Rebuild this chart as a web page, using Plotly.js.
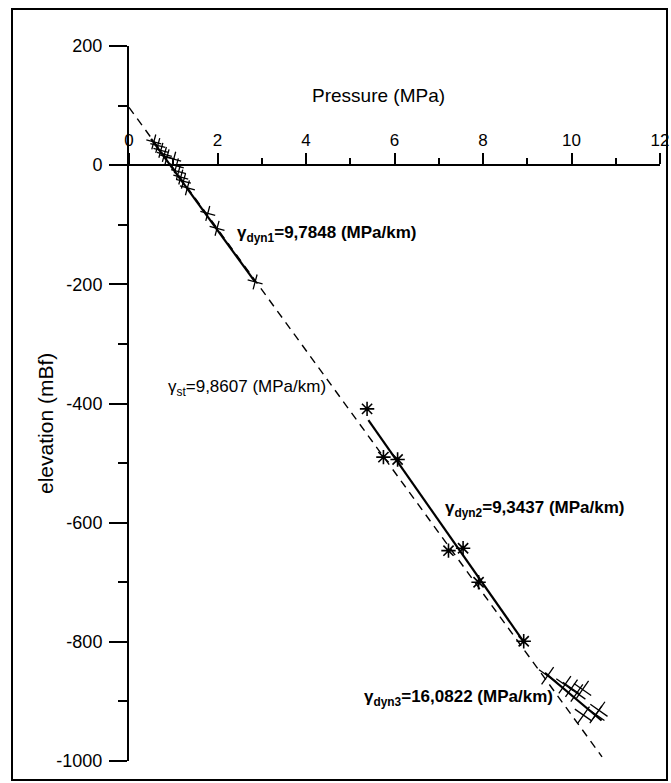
<!DOCTYPE html>
<html>
<head>
<meta charset="utf-8">
<script src="https://cdn.plot.ly/plotly-3.0.1.min.js"></script>
<style>html,body{margin:0;padding:0;background:#fff;}#chart{width:671px;height:783px;}</style>
</head>
<body>
<div id="chart"></div>
<script>
// Measured points: pressure (MPa) vs elevation (mBf)
const pDyn1 = [0.56, 0.65, 0.72, 0.80, 0.86, 1.01, 1.07, 1.12, 1.17, 1.23, 1.32, 1.78, 1.99, 2.85];
const zDyn1 = [39, 33, 25, 18, 14, 10, -1, -11, -20, -27, -38, -81, -106, -196];
const pDyn2 = [5.38, 5.75, 6.07, 7.22, 7.55, 7.90, 8.92];
const zDyn2 = [-409, -490, -494, -647, -643, -700, -799];
const pDyn3 = [9.46, 9.85, 10.00, 10.12, 10.25, 10.27, 10.55, 10.62];
const zDyn3 = [-857, -872, -878, -886, -880, -923, -922, -915];

// Fitted gradient lines (end points)
const fitDyn1P = [0.50, 2.85], fitDyn1Z = [44, -196];
const fitDyn2P = [5.41, 8.92], fitDyn2Z = [-428, -800];
const fitDyn3P = [9.40, 10.68], fitDyn3Z = [-852, -932];
const fitStP = [0, 10.69], fitStZ = [97, -993];

// Tick labels
const xTickVals = [0, 2, 4, 6, 8, 10, 12];
const xTickText = ["0", "2", "4", "6", "8", "10", "12"];
const yTickVals = [200, 0, -200, -400, -600, -800, -1000];
const yTickText = ["200", "0", "-200", "-400", "-600", "-800", "-1000"];

// Labels
const labDyn1 = "<b>γ<sub>dyn1</sub>=9,7848 (MPa/km)</b>";
const labSt = "γ<sub>st</sub>=9,8607 (MPa/km)";
const labDyn2 = "<b>γ<sub>dyn2</sub>=9,3437 (MPa/km)</b>";
const labDyn3 = "<b>γ<sub>dyn3</sub>=16,0822 (MPa/km)</b>";
const xTitle = "Pressure (MPa)";
const yTitle = "elevation (mBf)";

const FONT = "Liberation Sans, Arial, Helvetica, sans-serif";
const K = '#000';

const traces = [
  {x: fitStP, y: fitStZ, mode: 'lines', line: {color: K, width: 1.4, dash: '8px,6px'}},
  {x: fitDyn1P, y: fitDyn1Z, mode: 'lines', line: {color: K, width: 2.2}},
  {x: fitDyn2P, y: fitDyn2Z, mode: 'lines', line: {color: K, width: 2.2}},
  {x: fitDyn3P, y: fitDyn3Z, mode: 'lines', line: {color: K, width: 2.2}},
  {x: pDyn1, y: zDyn1, mode: 'markers', marker: {symbol: 'cross-thin-open', color: K, size: 11, angle: 15, line: {color: K, width: 1.3}}},
  {x: pDyn2, y: zDyn2, mode: 'markers', marker: {symbol: 'asterisk-open', color: K, size: 12, line: {color: K, width: 1.6}}},
  {x: pDyn3, y: zDyn3, mode: 'markers', marker: {symbol: 'cross-thin-open', color: K, size: 15, angle: 35, line: {color: K, width: 1.3}}}
];

const layout = {
  width: 671, height: 783,
  margin: {l: 129, r: 11, t: 46, b: 22},
  paper_bgcolor: '#fff', plot_bgcolor: 'rgba(0,0,0,0)',
  showlegend: false,
  font: {family: FONT, color: K},
  xaxis: {
    range: [0, 12], anchor: 'free', position: 1000/1200, side: 'top',
    tickmode: 'array', tickvals: xTickVals, ticktext: xTickText,
    ticks: 'outside', ticklen: 11, tickwidth: 2, tickcolor: K,
    minor: {tickmode: 'linear', tick0: 0, dtick: 1, ticks: 'outside', ticklen: 6, tickwidth: 2, tickcolor: K},
    showline: true, linewidth: 2, linecolor: K,
    showgrid: false, zeroline: false,
    tickfont: {size: 17, family: FONT},
    title: {text: ''}
  },
  yaxis: {
    range: [-1000, 200],
    tickmode: 'array', tickvals: yTickVals, ticktext: yTickText,
    ticks: 'outside', ticklen: 18, tickwidth: 2, tickcolor: K,
    minor: {tickmode: 'linear', tick0: 0, dtick: 100, ticks: 'outside', ticklen: 9, tickwidth: 2, tickcolor: K},
    showline: true, linewidth: 2, linecolor: K,
    showgrid: false, zeroline: false,
    tickfont: {size: 18, family: FONT},
    ticklabelstandoff: 3,
    title: {text: ''}
  },
  annotations: [
    {x: 2.40, y: -116, xref: 'x', yref: 'y', text: labDyn1, showarrow: false, xanchor: 'left', yanchor: 'middle', font: {size: 17, family: FONT}},
    {x: 4.50, y: -374, xref: 'x', yref: 'y', text: labSt, showarrow: false, xanchor: 'right', yanchor: 'middle', font: {size: 17, family: FONT}},
    {x: 7.10, y: -577, xref: 'x', yref: 'y', text: labDyn2, showarrow: false, xanchor: 'left', yanchor: 'middle', font: {size: 17, family: FONT}},
    {x: 9.63, y: -895, xref: 'x', yref: 'y', text: labDyn3, showarrow: false, xanchor: 'right', yanchor: 'middle', font: {size: 17, family: FONT}},
    {x: (378 - 129) / 531, y: (761 - 95) / 715, xref: 'paper', yref: 'paper', text: xTitle, showarrow: false, xanchor: 'center', yanchor: 'middle', font: {size: 19, family: FONT}},
    {x: (45 - 129) / 531, y: (761 - 424) / 715, xref: 'paper', yref: 'paper', text: yTitle, textangle: -90, showarrow: false, xanchor: 'center', yanchor: 'middle', font: {size: 21, family: FONT}}
  ],
  shapes: [
    {type: 'rect', xref: 'paper', yref: 'paper',
     x0: (12 - 129) / 531, x1: (667 - 129) / 531, y0: (761 - 780) / 715, y1: (761 - 9) / 715,
     line: {color: K, width: 2}, fillcolor: 'rgba(0,0,0,0)'}
  ]
};

Plotly.newPlot('chart', traces, layout, {displayModeBar: false, staticPlot: true});
</script>
</body>
</html>
